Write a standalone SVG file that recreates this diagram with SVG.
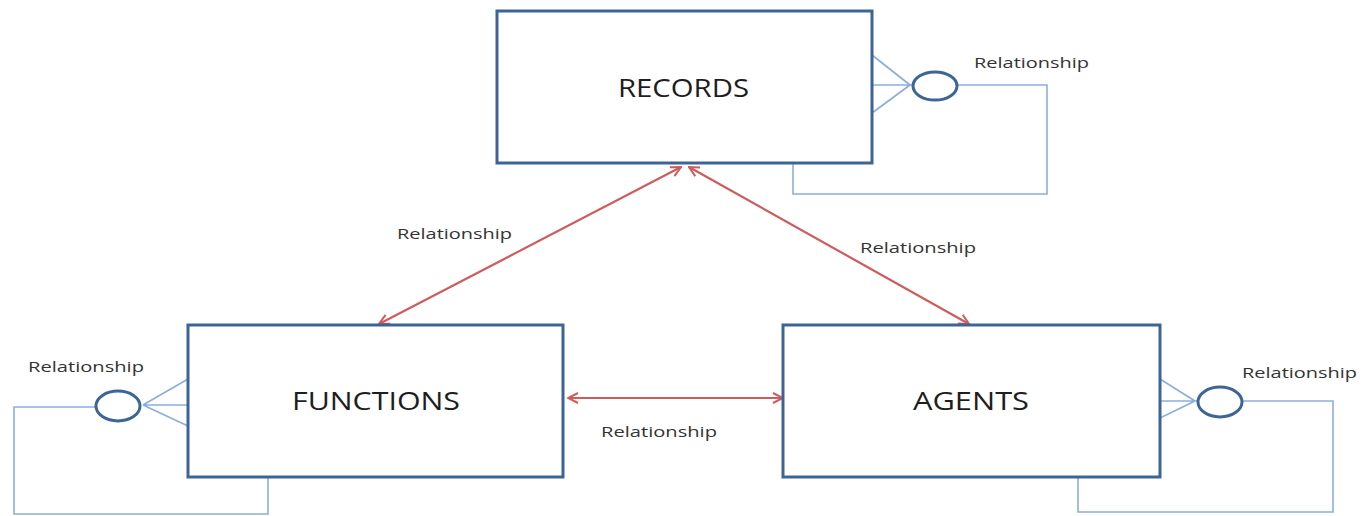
<svg xmlns="http://www.w3.org/2000/svg" width="1361" height="516" viewBox="0 0 1361 516">
<style>
.box{fill:#fff;stroke:#3d6496;stroke-width:3}
.ent{font-family:"Open Sans","Liberation Sans",sans-serif;font-size:25px;fill:#1e1e1e}
.lbl{font-family:"Open Sans","Liberation Sans",sans-serif;font-size:15px;fill:#333}
.thin{fill:none;stroke:#8aaedc;stroke-width:1.6}
.oval{fill:#fff;stroke:#3d6496;stroke-width:3}
.red{fill:none;stroke:#cf5b5b;stroke-width:2.2;marker-start:url(#ah);marker-end:url(#ah)}
</style>
<defs>
<marker id="ah" viewBox="0 0 12 12" refX="11" refY="6" markerWidth="12" markerHeight="12" markerUnits="userSpaceOnUse" orient="auto-start-reverse">
<path d="M1,1 L11,6 L1,11" fill="none" stroke="#cf5b5b" stroke-width="2"/>
</marker>
</defs>
<rect width="1361" height="516" fill="#fff"/>
<g id="connectors">
<line class="red" x1="681" y1="167" x2="379" y2="324"/>
<line class="red" x1="689" y1="167" x2="969" y2="324"/>
<line class="red" x1="568" y1="398" x2="783" y2="398"/>
<path class="thin" d="M872,55 L910,85 M872,85 L912,85 M872,113 L910,85"/>
<path class="thin" d="M958,85 L1047,85 L1047,194 L793,194 L793,163"/>
<path class="thin" d="M188,379 L143,405 M188,405 L143,405 M188,426 L143,405"/>
<path class="thin" d="M95,407 L14,407 L14,514 L268,514 L268,477"/>
<path class="thin" d="M1160,379 L1195,401 M1160,401 L1197,401 M1160,418 L1195,401"/>
<path class="thin" d="M1243,401 L1333,401 L1333,512 L1078,512 L1078,477"/>
</g>
<g id="records">
<rect class="box" x="497" y="11" width="375" height="152"/>
<text class="ent" x="618" y="97" textLength="131" lengthAdjust="spacingAndGlyphs">RECORDS</text>
</g>
<g id="functions">
<rect class="box" x="188" y="325" width="375" height="152"/>
<text class="ent" x="292" y="410" textLength="168" lengthAdjust="spacingAndGlyphs">FUNCTIONS</text>
</g>
<g id="agents">
<rect class="box" x="783" y="325" width="377" height="152"/>
<text class="ent" x="913" y="410" textLength="116" lengthAdjust="spacingAndGlyphs">AGENTS</text>
</g>
<g id="rel-records-self">
<ellipse class="oval" cx="935" cy="86" rx="22" ry="14"/>
<text class="lbl" x="974" y="68" textLength="115" lengthAdjust="spacingAndGlyphs">Relationship</text>
</g>
<g id="rel-functions-self">
<ellipse class="oval" cx="118" cy="406" rx="22" ry="15"/>
<text class="lbl" x="28" y="372" textLength="116" lengthAdjust="spacingAndGlyphs">Relationship</text>
</g>
<g id="rel-agents-self">
<ellipse class="oval" cx="1220" cy="402" rx="22" ry="15"/>
<text class="lbl" x="1242" y="378" textLength="115" lengthAdjust="spacingAndGlyphs">Relationship</text>
</g>
<g id="labels">
<text class="lbl" x="397" y="239" textLength="115" lengthAdjust="spacingAndGlyphs">Relationship</text>
<text class="lbl" x="860" y="253" textLength="116" lengthAdjust="spacingAndGlyphs">Relationship</text>
<text class="lbl" x="601" y="437" textLength="116" lengthAdjust="spacingAndGlyphs">Relationship</text>
</g>
</svg>
